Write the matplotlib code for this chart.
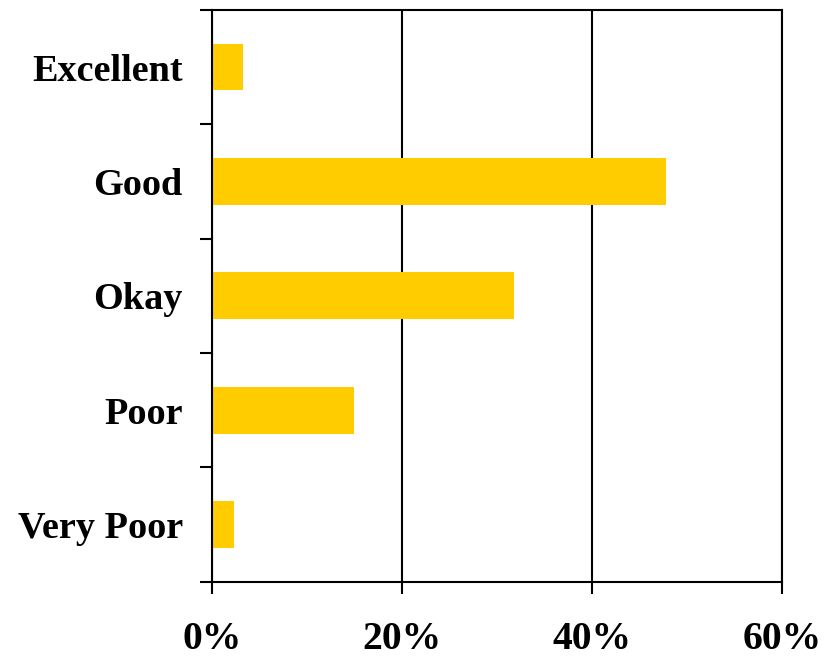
import numpy as np
import matplotlib.pyplot as plt
from matplotlib.ticker import FixedLocator, PercentFormatter

# Survey ratings (percent of responses)
categories = ['Excellent', 'Good', 'Okay', 'Poor', 'Very Poor']
shares = [3.3, 47.8, 31.8, 14.9, 2.3]
x_ticks = [0, 20, 40, 60]

plt.rcParams['font.family'] = ['Liberation Serif', 'DejaVu Serif']

fig = plt.figure(figsize=(8.25, 6.58), dpi=100)
ax = fig.add_axes([0.257, 0.116, 0.691, 0.869])

y = np.arange(len(categories))
ax.barh(y, shares, height=0.41, color='#FFCC00', zorder=2)

ax.set_xlim(0, 60)
ax.set_ylim(len(categories) - 0.5, -0.5)

# vertical gridlines
ax.xaxis.set_major_locator(FixedLocator(x_ticks))
ax.xaxis.set_major_formatter(PercentFormatter(decimals=0))
ax.grid(axis='x', color='black', linewidth=1.5, zorder=1)
ax.set_axisbelow(True)

ax.set_yticks(y)
ax.set_yticklabels(categories)
ax.yaxis.set_minor_locator(FixedLocator(np.arange(-0.5, len(categories), 1.0)))

ax.tick_params(axis='y', which='major', length=0, pad=21,
               labelsize=27.5)
ax.tick_params(axis='y', which='minor', length=8.5, width=1.5,
               direction='out', color='black')
ax.tick_params(axis='x', which='major', length=8.5, width=1.5,
               direction='out', pad=20, labelsize=28.5)

for lab in ax.get_yticklabels() + ax.get_xticklabels():
    lab.set_fontweight('bold')

for s in ax.spines.values():
    s.set_linewidth(1.5)
    s.set_color('black')

fig.savefig('out.png', dpi=100)
